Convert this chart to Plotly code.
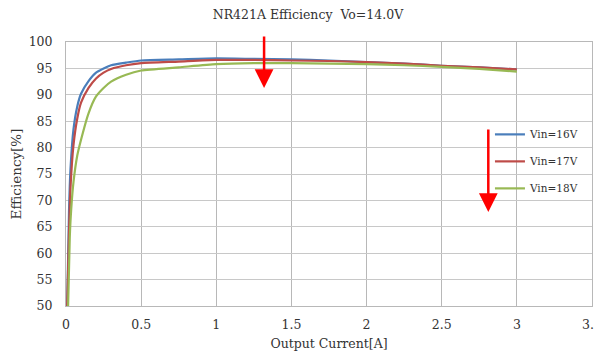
import plotly.graph_objects as go

current = [0.008, 0.02, 0.03, 0.05, 0.075, 0.1, 0.15, 0.2, 0.25, 0.3, 0.4, 0.5,
           0.75, 1.0, 1.25, 1.5, 1.75, 2.0, 2.25, 2.5, 2.75, 3.0]
current_18 = [0.014, 0.025, 0.035, 0.05, 0.075, 0.1, 0.15, 0.2, 0.25, 0.3, 0.4, 0.5,
              0.75, 1.0, 1.25, 1.5, 1.75, 2.0, 2.25, 2.5, 2.75, 3.0]
eff_16 = [50, 68, 76, 83.5, 87.8, 90.2, 92.6, 94.2, 95.0, 95.6, 96.1, 96.5,
          96.7, 96.9, 96.8, 96.7, 96.5, 96.2, 95.9, 95.5, 95.2, 94.8]
eff_17 = [50, 64, 72.5, 80.5, 85.5, 88.5, 91.3, 93.1, 94.2, 94.9, 95.6, 96.0,
          96.3, 96.6, 96.6, 96.5, 96.4, 96.2, 95.9, 95.5, 95.2, 94.8]
eff_18 = [50, 63, 68.5, 73.5, 78.5, 81.5, 86.5, 89.7, 91.3, 92.5, 93.8, 94.6,
          95.2, 95.8, 96.0, 96.0, 95.9, 95.8, 95.6, 95.3, 94.9, 94.4]

names = ["Vin=16V", "Vin=17V", "Vin=18V"]
colors = ["#4a7ebb", "#be4b48", "#98b954"]

font = "DejaVu Serif"
fig = go.Figure()
for i, (xs, ys) in enumerate([(current, eff_16), (current, eff_17), (current_18, eff_18)]):
    fig.add_trace(go.Scatter(x=xs, y=ys, mode="lines", name=names[i],
                             legendgroup=names[i], line=dict(color=colors[i], width=2.2,
                             shape="spline", smoothing=0.6)))

fig.update_layout(
    width=594, height=345,
    margin=dict(l=58, r=10, t=34, b=47, autoexpand=False),
    paper_bgcolor="white", plot_bgcolor="white",
    font=dict(family=font, size=12, color="#333"),
    title=dict(text="NR421A Efficiency  Vo=14.0V", x=0.505, xanchor="center",
               y=0.98, yanchor="middle", font=dict(family=font, size=12.5, color="#333")),
    xaxis=dict(range=[0, 3.5], dtick=0.5, tick0=0, showgrid=True, gridcolor="#b8b8b8",
               gridwidth=1, zeroline=False, showline=True, linecolor="#b8b8b8", mirror=True,
               ticks="outside", ticklen=7, tickcolor="rgba(0,0,0,0)", automargin=False,
               tickfont=dict(family=font, size=12.5),
               title=dict(text="Output Current[A]", standoff=8,
                          font=dict(family=font, size=12.5))),
    yaxis=dict(range=[50, 100], dtick=5, showgrid=True, gridcolor="#c8c8c8", gridwidth=1,
               zeroline=False, showline=True, linecolor="#b8b8b8", mirror=True,
               ticks="outside", ticklen=10, tickcolor="rgba(0,0,0,0)", automargin=False,
               tickfont=dict(family=font, size=12.5),
               title=dict(text="Efficiency[%]", standoff=6, font=dict(family=font, size=13.5))),
    legend=dict(x=0.806, y=0.705, xanchor="left", yanchor="top", bgcolor="rgba(0,0,0,0)",
                tracegroupgap=8, font=dict(family=font, size=10.5)),
    showlegend=True,
)

fig.add_annotation(x=1.318, y=91.3, xref="x", yref="y", ax=0, ay=-53, text="",
                   showarrow=True, arrowhead=2, arrowsize=1.5, arrowwidth=2.5, arrowcolor="#ff0000")
fig.add_annotation(x=2.81, y=67.8, xref="x", yref="y", ax=0, ay=-84, text="",
                   showarrow=True, arrowhead=2, arrowsize=1.5, arrowwidth=2.5, arrowcolor="#ff0000")

fig.write_html("out.html")
